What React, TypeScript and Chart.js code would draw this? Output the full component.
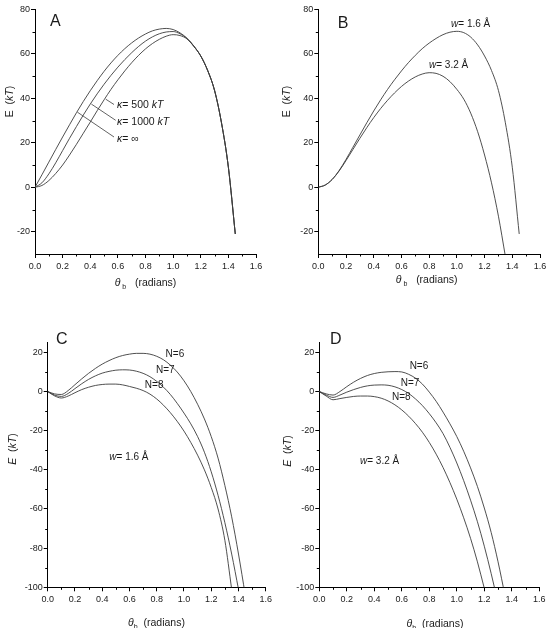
import React, { useEffect, useRef } from 'react';
import { Chart, registerables } from 'chart.js';

Chart.register(...registerables);

// ---------- data ----------
const THETA = [0, 0.05, 0.1, 0.15, 0.2, 0.25, 0.3, 0.35, 0.4, 0.45, 0.5, 0.55, 0.6, 0.65, 0.7, 0.75, 0.8, 0.85, 0.9, 0.95, 1.0, 1.05, 1.1, 1.15, 1.2, 1.25, 1.3, 1.35, 1.4, 1.45];

// Panel A
const A_KAPPA_INF = [0, 5.6, 11.3, 17.0, 22.6, 28.1, 33.5, 38.6, 43.4, 47.9, 52.1, 55.9, 59.3, 62.3, 64.9, 67.1, 68.9, 70.3, 71.1, 71.4, 70.9, 69.4, 67.0, 63.5, 59.0, 52.5, 43.5, 29.0, 9.0, -21.0];
const A_KAPPA_1000 = [0, 2.0, 6.0, 11.0, 16.5, 22.0, 27.3, 32.5, 37.4, 42.0, 46.3, 50.3, 54.0, 57.4, 60.5, 63.3, 65.7, 67.6, 69.0, 69.8, 70.0, 69.0, 66.9, 63.4, 59.0, 52.5, 43.5, 29.0, 9.0, -21.0];
const A_KAPPA_500 = [0, 0.8, 3.0, 6.2, 10.0, 14.5, 19.3, 24.3, 29.3, 34.4, 39.3, 44.0, 48.3, 52.3, 56.0, 59.3, 62.2, 64.6, 66.5, 67.9, 68.6, 68.2, 66.7, 63.3, 59.0, 52.5, 43.5, 29.0, 9.0, -21.0];

// Panel B
const B_W16 = [0, 1.0, 3.5, 7.5, 12.5, 18.0, 23.5, 29.0, 34.3, 39.3, 44.0, 48.3, 52.3, 56.0, 59.3, 62.3, 64.8, 66.9, 68.6, 69.7, 70.1, 69.5, 67.5, 64.0, 59.0, 52.5, 43.5, 29.0, 9.0, -21.0];
const B_W32 = [0, 1.0, 3.5, 7.3, 12.0, 17.0, 22.0, 26.8, 31.3, 35.4, 39.1, 42.4, 45.3, 47.7, 49.6, 50.9, 51.5, 51.2, 49.9, 47.5, 44.0, 39.6, 33.3, 25.0, 14.5, 2.0, -13.0, -31.0];

// Panel C (w = 1.6 Å)
const C_N6 = [0, -1.2, -1.5, 0.5, 3.5, 6.5, 9.3, 11.8, 14.0, 15.8, 17.3, 18.4, 19.1, 19.5, 19.5, 19.1, 18.0, 16.2, 13.5, 10.0, 5.5, 0.0, -6.5, -14.0, -23.0, -34.0, -48.0, -64.0, -83.0, -104.0];
const C_N7 = [0, -1.8, -2.5, -1.0, 1.5, 4.0, 6.2, 8.0, 9.4, 10.3, 10.9, 11.1, 11.0, 10.4, 9.3, 7.6, 5.2, 2.2, -1.5, -6.0, -11.0, -16.5, -23.0, -31.0, -41.0, -53.0, -67.0, -83.0, -101.0];
const C_N8 = [0, -2.2, -3.3, -2.3, -0.6, 1.0, 2.2, 3.1, 3.6, 3.8, 3.8, 3.4, 2.6, 1.7, 0.5, -1.3, -3.8, -7.0, -10.8, -15.2, -20.2, -26.0, -32.5, -40.0, -49.0, -60.0, -76.0, -101.0];

// Panel D (w = 3.2 Å)
const D_N6 = [0, -1.2, -1.8, 0.0, 2.5, 4.8, 6.7, 8.2, 9.2, 9.8, 10.1, 10.2, 10.0, 8.8, 6.8, 3.8, -0.3, -5.0, -10.5, -16.5, -23.0, -30.5, -39.0, -48.5, -59.5, -72.0, -87.0, -104.0];
const D_N7 = [0, -1.8, -3.0, -1.8, -0.3, 1.0, 2.1, 2.9, 3.3, 3.4, 3.2, 2.4, 1.0, -1.0, -3.8, -7.2, -11.3, -16.0, -21.5, -28.5, -36.5, -45.5, -55.5, -66.5, -79.0, -93.0, -108.0];
const D_N8 = [0, -2.3, -4.2, -3.6, -3.0, -2.5, -2.3, -2.3, -2.6, -3.4, -4.8, -6.8, -9.4, -12.6, -16.4, -20.8, -26.0, -32.0, -38.8, -46.5, -55.0, -64.5, -75.0, -87.0, -100.5];

// axis ranges / ticks
const X_RANGE = [0, 1.6];
const X_TICKS = [0, 0.2, 0.4, 0.6, 0.8, 1.0, 1.2, 1.4, 1.6];
const X_MINOR = [0.1, 0.3, 0.5, 0.7, 0.9, 1.1, 1.3, 1.5];
const Y_RANGE_AB = [-30, 80];
const Y_TICKS_AB = [-20, 0, 20, 40, 60, 80];
const Y_MINOR_AB = [-10, 10, 30, 50, 70];
const Y_RANGE_CD = [-100, 25];
const Y_TICKS_CD = [-100, -80, -60, -40, -20, 0, 20];
const Y_MINOR_CD = [-90, -70, -50, -30, -10, 10];

// ---------- styling / layout ----------
const FAM = '"Liberation Sans", Arial, Helvetica, sans-serif';
const INK = '#1a1a1a';
const LINE = '#3c3c3c';

type Run = [string, 'n' | 'i' | 's'];
interface Note { x: number; y: number; runs: Run[]; size: number; align: 'left' | 'center'; }

function drawRich(ctx: CanvasRenderingContext2D, runs: Run[], x: number, y: number, size: number, align: 'left' | 'center') {
  const fontFor = (st: string) =>
    st === 'i' ? `italic ${size}px ${FAM}` : st === 's' ? `${Math.round(size * 0.7)}px ${FAM}` : `${size}px ${FAM}`;
  let total = 0;
  const widths = runs.map(([t, st]) => {
    ctx.font = fontFor(st);
    const w = ctx.measureText(t).width;
    total += w;
    return w;
  });
  let cx = align === 'center' ? x - total / 2 : x;
  ctx.textBaseline = 'middle';
  ctx.textAlign = 'left';
  ctx.fillStyle = INK;
  runs.forEach(([t, st], i) => {
    ctx.font = fontFor(st);
    ctx.fillText(t, cx, st === 's' ? y + size * 0.38 : y);
    cx += widths[i];
  });
}

const xTitleAB: Run[] = [['θ', 'i'], [' b', 's'], ['   (radians)', 'n']];
const xTitleCD: Run[] = [['θ', 'i'], ['b', 's'], ['  (radians)', 'n']];
const yTitleAB: Run[] = [['E', 'n'], ['  (', 'n'], ['kT', 'i'], [')', 'n']];
const yTitleCD: Run[] = [['E', 'i'], ['  (', 'n'], ['kT', 'i'], [')', 'n']];

interface Panel {
  key: string;
  left: number; top: number; width: number; height: number;
  yW: number; xH: number; padTop: number; padRight: number;
  yRange: number[]; yTicks: number[]; yMinor: number[];
  series: number[][];
  letter: Note;
  notes: Note[];
  pointers: number[][];
  yTitle: Run[]; yTitlePos: number[];
  xTitle: Run[]; xTitlePos: number[];
}

const PANELS: Panel[] = [
  {
    key: 'A', left: 0, top: 0, width: 275, height: 300,
    yW: 35, xH: 46, padTop: 9.3, padRight: 19,
    yRange: Y_RANGE_AB, yTicks: Y_TICKS_AB, yMinor: Y_MINOR_AB,
    series: [A_KAPPA_INF, A_KAPPA_1000, A_KAPPA_500],
    letter: { x: 0.109, y: 74.4, runs: [['A', 'n']], size: 16, align: 'left' },
    notes: [
      { x: 0.594, y: 36.9, runs: [['κ', 'i'], ['= 500 ', 'n'], ['kT', 'i']], size: 10.5, align: 'left' },
      { x: 0.594, y: 29.2, runs: [['κ', 'i'], ['= 1000 ', 'n'], ['kT', 'i']], size: 10.5, align: 'left' },
      { x: 0.594, y: 21.8, runs: [['κ', 'i'], ['= ∞', 'n']], size: 10.5, align: 'left' },
    ],
    pointers: [[0.512, 39.6, 0.572, 37.2], [0.408, 37.4, 0.584, 30.1], [0.306, 33.8, 0.572, 22.6]],
    yTitle: yTitleAB, yTitlePos: [10, 101.5],
    xTitle: xTitleAB, xTitlePos: [145.5, 283],
  },
  {
    key: 'B', left: 275, top: 0, width: 276, height: 300,
    yW: 43.3, xH: 46, padTop: 9.3, padRight: 11,
    yRange: Y_RANGE_AB, yTicks: Y_TICKS_AB, yMinor: Y_MINOR_AB,
    series: [B_W16, B_W32],
    letter: { x: 0.14, y: 73.6, runs: [['B', 'n']], size: 16, align: 'left' },
    notes: [
      { x: 0.958, y: 73.3, runs: [['w', 'i'], ['= 1.6 Å', 'n']], size: 10, align: 'left' },
      { x: 0.799, y: 54.8, runs: [['w', 'i'], ['= 3.2 Å', 'n']], size: 10, align: 'left' },
    ],
    pointers: [],
    yTitle: yTitleAB, yTitlePos: [12.3, 101.5],
    xTitle: xTitleAB, xTitlePos: [151.7, 280],
  },
  {
    key: 'C', left: 0, top: 300, width: 275, height: 328,
    yW: 47.7, xH: 40.7, padTop: 42.6, padRight: 6.7,
    yRange: Y_RANGE_CD, yTicks: Y_TICKS_CD, yMinor: Y_MINOR_CD,
    series: [C_N6, C_N7, C_N8],
    letter: { x: 0.06, y: 26.3, runs: [['C', 'n']], size: 16, align: 'left' },
    notes: [
      { x: 0.865, y: 18.8, runs: [['N=6', 'n']], size: 10, align: 'left' },
      { x: 0.795, y: 10.8, runs: [['N=7', 'n']], size: 10, align: 'left' },
      { x: 0.713, y: 3.0, runs: [['N=8', 'n']], size: 10, align: 'left' },
      { x: 0.452, y: -33.8, runs: [['w', 'i'], ['= 1.6 Å', 'n']], size: 10, align: 'left' },
    ],
    pointers: [],
    yTitle: yTitleCD, yTitlePos: [12.7, 149],
    xTitle: xTitleCD, xTitlePos: [156.5, 323.3],
  },
  {
    key: 'D', left: 275, top: 300, width: 276, height: 328,
    yW: 44.3, xH: 40.7, padTop: 42.6, padRight: 11.7,
    yRange: Y_RANGE_CD, yTicks: Y_TICKS_CD, yMinor: Y_MINOR_CD,
    series: [D_N6, D_N7, D_N8],
    letter: { x: 0.078, y: 26.3, runs: [['D', 'n']], size: 16, align: 'left' },
    notes: [
      { x: 0.657, y: 12.7, runs: [['N=6', 'n']], size: 10, align: 'left' },
      { x: 0.592, y: 4.2, runs: [['N=7', 'n']], size: 10, align: 'left' },
      { x: 0.529, y: -3.0, runs: [['N=8', 'n']], size: 10, align: 'left' },
      { x: 0.296, y: -35.8, runs: [['w', 'i'], ['= 3.2 Å', 'n']], size: 10, align: 'left' },
    ],
    pointers: [],
    yTitle: yTitleCD, yTitlePos: [13.3, 151],
    xTitle: xTitleCD, xTitlePos: [160, 324],
  },
];

function makePlugin(p: Panel) {
  return {
    id: 'panelDecor' + p.key,
    afterDraw(chart: any) {
      const ctx: CanvasRenderingContext2D = chart.ctx;
      const xs = chart.scales.x;
      const ys = chart.scales.y;
      const area = chart.chartArea;
      ctx.save();
      // minor ticks
      ctx.strokeStyle = '#000';
      ctx.lineWidth = 1;
      ctx.beginPath();
      X_MINOR.forEach((v) => {
        const px = Math.round(xs.getPixelForValue(v)) + 0.5;
        ctx.moveTo(px, area.bottom);
        ctx.lineTo(px, area.bottom + 2.5);
      });
      p.yMinor.forEach((v) => {
        const py = Math.round(ys.getPixelForValue(v)) + 0.5;
        ctx.moveTo(area.left - 2.5, py);
        ctx.lineTo(area.left, py);
      });
      ctx.stroke();
      // pointer lines
      ctx.strokeStyle = LINE;
      ctx.lineWidth = 0.8;
      ctx.beginPath();
      p.pointers.forEach(([x1, y1, x2, y2]) => {
        ctx.moveTo(xs.getPixelForValue(x1), ys.getPixelForValue(y1));
        ctx.lineTo(xs.getPixelForValue(x2), ys.getPixelForValue(y2));
      });
      ctx.stroke();
      // annotations
      [p.letter, ...p.notes].forEach((n) => {
        drawRich(ctx, n.runs, xs.getPixelForValue(n.x), ys.getPixelForValue(n.y), n.size, n.align);
      });
      // axis titles
      drawRich(ctx, p.xTitle, p.xTitlePos[0], p.xTitlePos[1], 10.5, 'center');
      ctx.translate(p.yTitlePos[0], p.yTitlePos[1]);
      ctx.rotate(-Math.PI / 2);
      drawRich(ctx, p.yTitle, 0, 0, 10.5, 'center');
      ctx.restore();
    },
  };
}

function PanelChart({ p }: { p: Panel }) {
  const ref = useRef<HTMLCanvasElement | null>(null);
  useEffect(() => {
    if (!ref.current) return;
    const tickFont = { family: FAM, size: 9 };
    const chart = new Chart(ref.current, {
      type: 'line',
      data: {
        datasets: p.series.map((vals) => ({
          data: vals.map((v, i) => ({ x: THETA[i], y: v })),
          borderColor: LINE,
          borderWidth: 0.9,
          pointRadius: 0,
          fill: false,
          cubicInterpolationMode: 'monotone' as const,
        })),
      },
      options: {
        animation: false,
        responsive: false,
        maintainAspectRatio: false,
        devicePixelRatio: 1,
        events: [],
        layout: { padding: { top: p.padTop, right: p.padRight, left: 0, bottom: 0 } },
        plugins: { legend: { display: false }, tooltip: { enabled: false }, title: { display: false } },
        scales: {
          x: {
            type: 'linear',
            min: X_RANGE[0],
            max: X_RANGE[1],
            bounds: 'data',
            afterBuildTicks: (s: any) => { s.ticks = X_TICKS.map((v) => ({ value: v })); },
            afterFit: (s: any) => { s.height = p.xH; },
            grid: { drawOnChartArea: false, tickLength: 4, color: '#000', lineWidth: 1 },
            border: { display: true, color: '#000', width: 1 },
            ticks: {
              autoSkip: false,
              maxRotation: 0,
              padding: 3,
              color: INK,
              font: tickFont,
              callback: (v: any) => Number(v).toFixed(1),
            },
          },
          y: {
            type: 'linear',
            min: p.yRange[0],
            max: p.yRange[1],
            bounds: 'data',
            afterBuildTicks: (s: any) => { s.ticks = p.yTicks.map((v) => ({ value: v })); },
            afterFit: (s: any) => { s.width = p.yW; },
            grid: { drawOnChartArea: false, tickLength: 4, color: '#000', lineWidth: 1 },
            border: { display: true, color: '#000', width: 1 },
            ticks: {
              autoSkip: false,
              padding: 1,
              color: INK,
              font: tickFont,
              callback: (v: any) => String(Math.round(Number(v))),
            },
          },
        },
      } as any,
      plugins: [makePlugin(p)],
    });
    return () => chart.destroy();
  }, [p]);
  return (
    <canvas
      ref={ref}
      width={p.width}
      height={p.height}
      style={{ position: 'absolute', left: p.left, top: p.top, width: p.width, height: p.height, display: 'block' }}
    />
  );
}

export default function App() {
  return (
    <div style={{ position: 'absolute', left: 0, top: 0, width: 551, height: 628, background: '#fff' }}>
      {PANELS.map((p) => (
        <PanelChart key={p.key} p={p} />
      ))}
    </div>
  );
}
